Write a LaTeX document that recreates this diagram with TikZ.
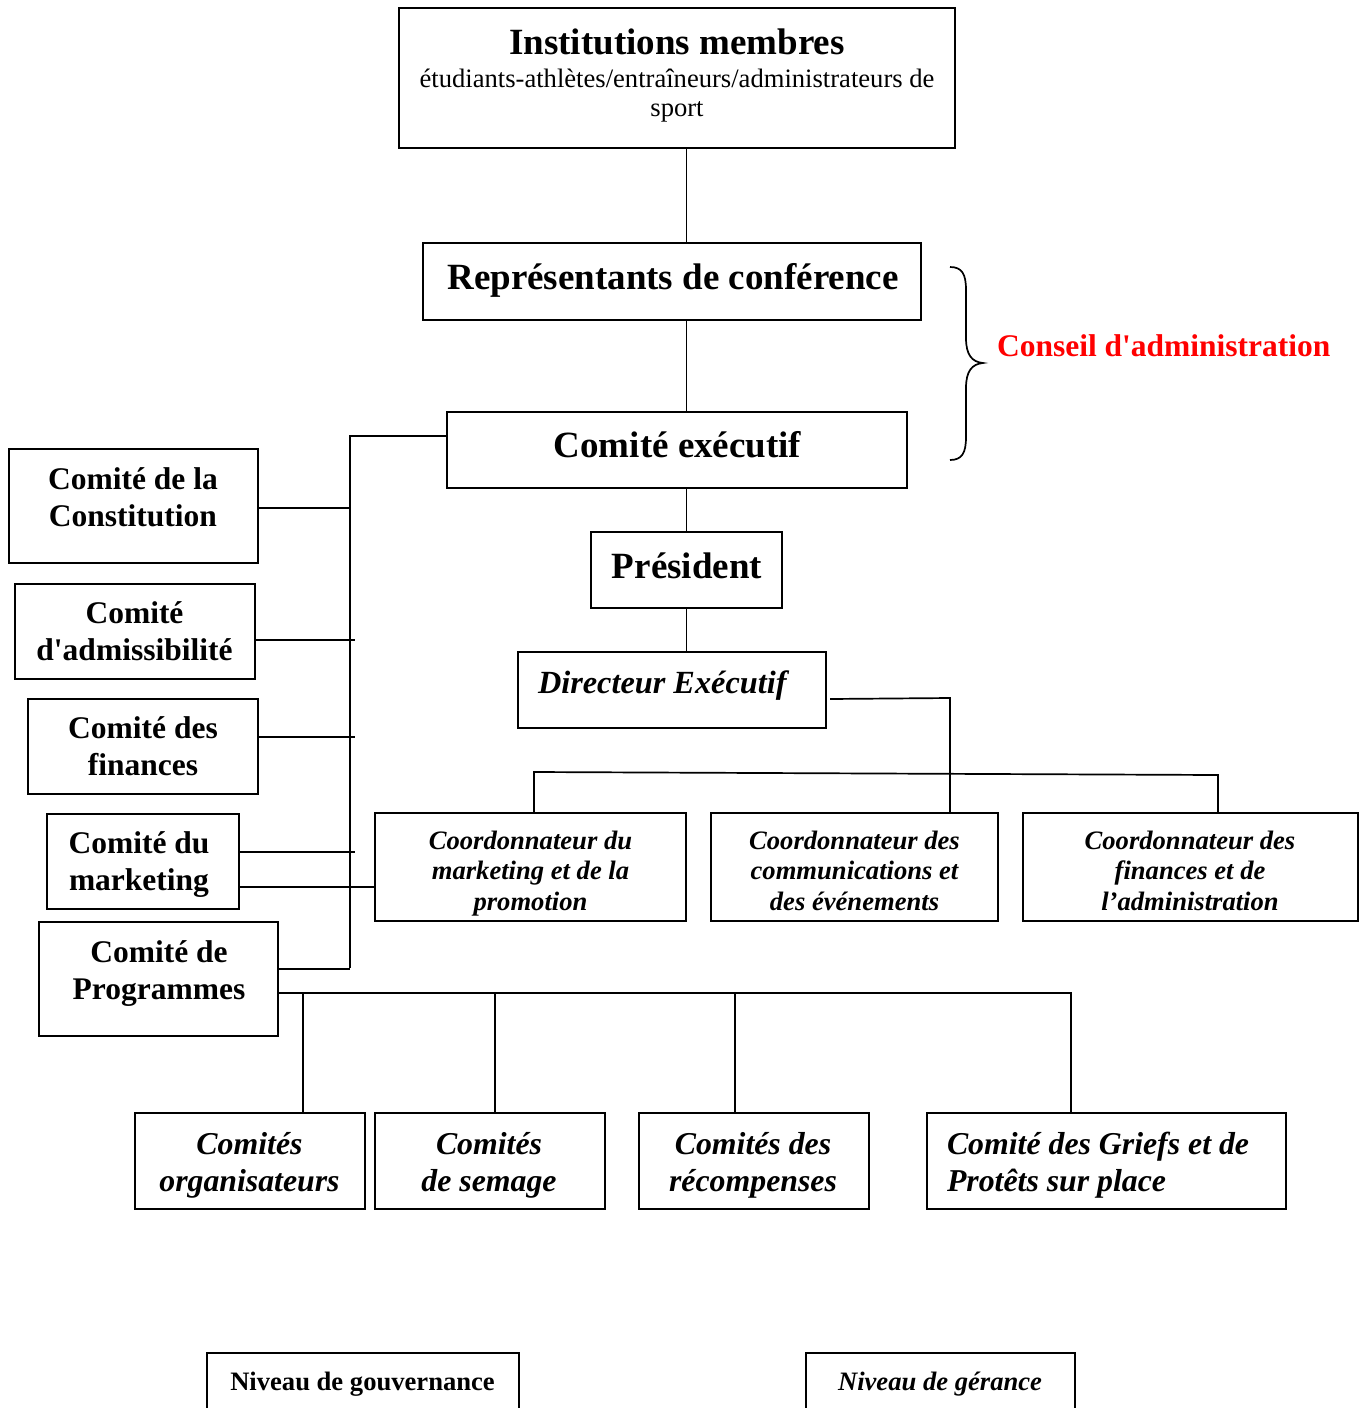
\documentclass[tikz,border=0pt]{standalone}
\usepackage{fontspec}
\setmainfont{Liberation Serif}
\newcommand\ctab[1]{\begin{tabular}[t]{@{}c@{}}#1\end{tabular}}
\newcommand\ltab[1]{\begin{tabular}[t]{@{}l@{}}#1\end{tabular}}
\newcommand\sq{\textquotesingle}
\definecolor{cred}{RGB}{255,0,0}
\begin{document}
\begin{tikzpicture}[x=1pt,y=-1pt,
  box/.style={draw, line width=2pt, inner sep=0pt, outer sep=0pt, rectangle},
  conn/.style={line width=1.7pt},
  lbl/.style={anchor=base, inner sep=0pt, outer sep=0pt},
  lblw/.style={anchor=base west, inner sep=0pt, outer sep=0pt},
  fA/.style={font=\fontsize{37}{44}\selectfont\bfseries},
  fSub/.style={font=\fontsize{26.6}{29}\selectfont},
  fB/.style={font=\fontsize{31.5}{37.5}\selectfont\bfseries},
  fDir/.style={font=\fontsize{32.3}{38}\selectfont\bfseries\itshape},
  fC/.style={font=\fontsize{26.6}{30.5}\selectfont\bfseries\itshape},
  fD/.style={font=\fontsize{31.8}{37}\selectfont\bfseries\itshape},
  fL/.style={font=\fontsize{26.6}{30}\selectfont\bfseries},
  fLi/.style={font=\fontsize{26.6}{30}\selectfont\bfseries\itshape},
]
\useasboundingbox (0,0) rectangle (1368,1408);
\clip (0,0) rectangle (1368,1408);
\fill[white] (0,0) rectangle (1368,1408);

% boxes
\node[box, minimum width=556pt, minimum height=140pt] (inst) at (677,78) {};
\node[box, minimum width=498pt, minimum height=77pt] (rep) at (672,281.5) {};
\node[box, minimum width=460pt, minimum height=76pt] (exec) at (677,450) {};
\node[box, minimum width=191pt, minimum height=76pt] (pres) at (686.5,570) {};
\node[box, minimum width=308pt, minimum height=76pt] (dir) at (672,690) {};
\node[box, minimum width=311pt, minimum height=108pt] (ca) at (530.5,867) {};
\node[box, minimum width=287pt, minimum height=108pt] (cb) at (854.5,867) {};
\node[box, minimum width=335pt, minimum height=108pt] (cc) at (1190.5,867) {};
\node[box, minimum width=249pt, minimum height=114pt] (l1) at (133.5,506) {};
\node[box, minimum width=240pt, minimum height=95pt] (l2) at (135,631.5) {};
\node[box, minimum width=230pt, minimum height=95pt] (l3) at (143,746.5) {};
\node[box, minimum width=192pt, minimum height=95pt] (l4) at (143,861.5) {};
\node[box, minimum width=239pt, minimum height=114pt] (l5) at (158.5,979) {};
\node[box, minimum width=230pt, minimum height=96pt] (b1) at (250,1161) {};
\node[box, minimum width=230pt, minimum height=96pt] (b2) at (490,1161) {};
\node[box, minimum width=230pt, minimum height=96pt] (b3) at (754,1161) {};
\node[box, minimum width=359pt, minimum height=96pt] (b4) at (1106.5,1161) {};
\node[box, minimum width=312pt, minimum height=87pt] (g1) at (363,1396.5) {};
\node[box, minimum width=269pt, minimum height=87pt] (g2) at (940.5,1396.5) {};

% texts
\node[lbl, fA] (inst-t) at (677,54) {Institutions membres};
\node[lbl, fSub] (inst-s) at (677,87) {\ctab{étudiants-athlètes/entraîneurs/administrateurs de\\sport}};
\node[lbl, fA] (rep-t) at (673,289) {Représentants de conférence};
\node[lbl, fA] (exec-t) at (677.5,457) {Comité exécutif};
\node[lbl, fA] (pres-t) at (687,578) {Président};
\node[lblw, fDir] (dir-t) at (538,693) {Directeur Exécutif};
\node[lblw, fB, text=cred] (cons-t) at (997,356) {Conseil d\sq administration};
\node[lbl, fB] (l1-t) at (133,489) {\ctab{Comité de la\\Constitution}};
\node[lbl, fB] (l2-t) at (134.5,623) {\ctab{Comité\\d\sq admissibilité}};
\node[lbl, fB] (l3-t) at (143,738) {\ctab{Comité des\\finances}};
\node[lbl, fB] (l4-t) at (139,853) {\ctab{Comité du\\marketing}};
\node[lbl, fB] (l5-t) at (159,962) {\ctab{Comité de\\Programmes}};
\node[lbl, fC] (ca-t) at (530.5,849) {\ctab{Coordonnateur du\\marketing et de la\\promotion}};
\node[lbl, fC] (cb-t) at (854.5,849) {\ctab{Coordonnateur des\\communications et\\des événements}};
\node[lbl, fC] (cc-t) at (1190,849) {\ctab{Coordonnateur des\\finances et de\\l’administration}};
\node[lbl, fD] (b1-t) at (249.5,1154) {\ctab{Comités\\organisateurs}};
\node[lbl, fD] (b2-t) at (489,1154) {\ctab{Comités\\de semage}};
\node[lbl, fD] (b3-t) at (753,1154) {\ctab{Comités des\\récompenses}};
\node[lblw, fD] (b4-t) at (947,1154) {\ltab{Comité des Griefs et de\\Protêts sur place}};
\node[lbl, fL] (g1-t) at (362.5,1390) {Niveau de gouvernance};
\node[lbl, fLi] (g2-t) at (940,1390) {Niveau de gérance};

% coordinates
\coordinate (dj) at (950,698);
\coordinate (busL) at (534,772);
\coordinate (busR) at (1218,775);
\coordinate (spT) at (350,436);
\coordinate (spB) at (350,968);
\coordinate (d1) at (303,993);
\coordinate (d2) at (495,993);
\coordinate (d3) at (735,993);
\coordinate (d4) at (1071,993);

% spine
\draw[conn] (inst.south -| pres.north) -- (rep.north -| pres.north);
\draw[conn] (rep.south -| pres.north) -- (exec.north -| pres.north);
\draw[conn] (exec.south -| pres.north) -- (pres.north);
\draw[conn] (pres.south) -- (pres.south |- dir.north);
% director to coordinators
\draw[conn] ([yshift=-9pt,xshift=4pt]dir.east) -- (dj) -- (dj |- cb.north);
\draw[conn] (ca.north -| busL) -- (busL) -- (busR) -- (cc.north -| busR);
% left committees
\draw[conn] (exec.west |- spT) -- (spT) -- (spB);
\draw[conn] ([yshift=-2pt]l1.east) -- ([yshift=-2pt]l1.east -| spT);
\draw[conn] ([yshift=-8.5pt]l2.east) -- ([yshift=-8.5pt,xshift=5pt]l2.east -| spT);
\draw[conn] ([yshift=9.5pt]l3.east) -- ([yshift=9.5pt,xshift=5pt]l3.east -| spT);
\draw[conn] ([yshift=9.5pt]l4.east) -- ([yshift=9.5pt,xshift=5pt]l4.east -| spT);
\draw[conn] ([yshift=-25.5pt]l4.east) -- ([yshift=-25.5pt]l4.east -| ca.west);
\draw[conn] ([yshift=10pt]l5.east) -- ([yshift=10pt]l5.east -| spT);
% programmes bus
\draw[conn] ([yshift=-14pt]l5.east) -- (d4) -- (d4 |- b4.north);
\draw[conn] (d1) -- (d1 |- b1.north);
\draw[conn] (d2) -- (d2 |- b2.north);
\draw[conn] (d3) -- (d3 |- b3.north);

% brace
\draw[line width=1.7pt] (950,267) .. controls (962,267) and (966,274) .. (966,290)
  -- (966,338) .. controls (966,355) and (972,362) .. (983,363)
  .. controls (972,364) and (966,371) .. (966,388)
  -- (966,437) .. controls (966,453) and (962,460) .. (950,460);
\end{tikzpicture}
\end{document}
